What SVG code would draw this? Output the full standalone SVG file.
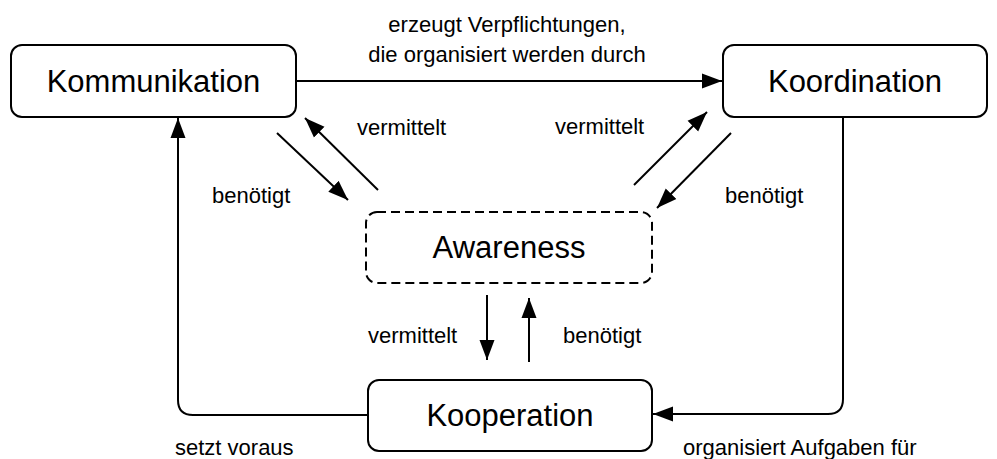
<svg xmlns="http://www.w3.org/2000/svg" width="997" height="459" viewBox="0 0 997 459">
  <style>
    .box { fill: #ffffff; stroke: #000000; stroke-width: 2; }
    .dashed { stroke-dasharray: 9 5; }
    .title { font-family: "Liberation Sans", Arial, sans-serif; font-size: 31px; fill: #000000; text-anchor: middle; }
    .label { font-family: "Liberation Sans", Arial, sans-serif; font-size: 22px; fill: #000000; }
    .edge { fill: none; stroke: #000000; stroke-width: 2; marker-end: url(#arrow); }
  </style>
  <defs>
    <marker id="arrow" markerUnits="userSpaceOnUse" markerWidth="21" markerHeight="16" refX="20" refY="8" orient="auto">
      <path d="M0,0.5 L20,8 L0,15.5 z" fill="#000000"/>
    </marker>
  </defs>

  <rect width="997" height="459" fill="#ffffff"/>

  <g id="connectors">
    <path class="edge" d="M296,81 H722"/>
    <path class="edge" d="M843,117 V399 Q843,414 828,414 H653"/>
    <path class="edge" d="M368,415 H193 Q178,415 178,400 V118"/>
    <path class="edge" d="M277,133 L348,200"/>
    <path class="edge" d="M378,190 L305,118"/>
    <path class="edge" d="M634,185 L707,112"/>
    <path class="edge" d="M731,133 L657,208"/>
    <path class="edge" d="M487,295 V360"/>
    <path class="edge" d="M529,362 V298"/>
  </g>

  <g id="edge-labels">
    <text class="label" x="507" y="32" text-anchor="middle">erzeugt Verpflichtungen,</text>
    <text class="label" x="507" y="62" text-anchor="middle">die organisiert werden durch</text>
    <text class="label" x="357" y="135">vermittelt</text>
    <text class="label" x="212" y="203">benötigt</text>
    <text class="label" x="555" y="134">vermittelt</text>
    <text class="label" x="725" y="203">benötigt</text>
    <text class="label" x="368" y="343">vermittelt</text>
    <text class="label" x="563" y="343">benötigt</text>
    <text class="label" x="175" y="455">setzt voraus</text>
    <text class="label" x="683" y="455">organisiert Aufgaben für</text>
  </g>

  <g id="kommunikation">
    <rect class="box" x="11" y="45" width="285" height="72" rx="11"/>
    <text class="title" x="153.5" y="92">Kommunikation</text>
  </g>

  <g id="koordination">
    <rect class="box" x="723" y="45" width="264" height="72" rx="11"/>
    <text class="title" x="855" y="92">Koordination</text>
  </g>

  <g id="awareness">
    <rect class="box dashed" x="366" y="212" width="286" height="71" rx="11"/>
    <text class="title" x="509" y="258">Awareness</text>
  </g>

  <g id="kooperation">
    <rect class="box" x="368" y="380" width="284" height="71" rx="11"/>
    <text class="title" x="510" y="426">Kooperation</text>
  </g>
</svg>
